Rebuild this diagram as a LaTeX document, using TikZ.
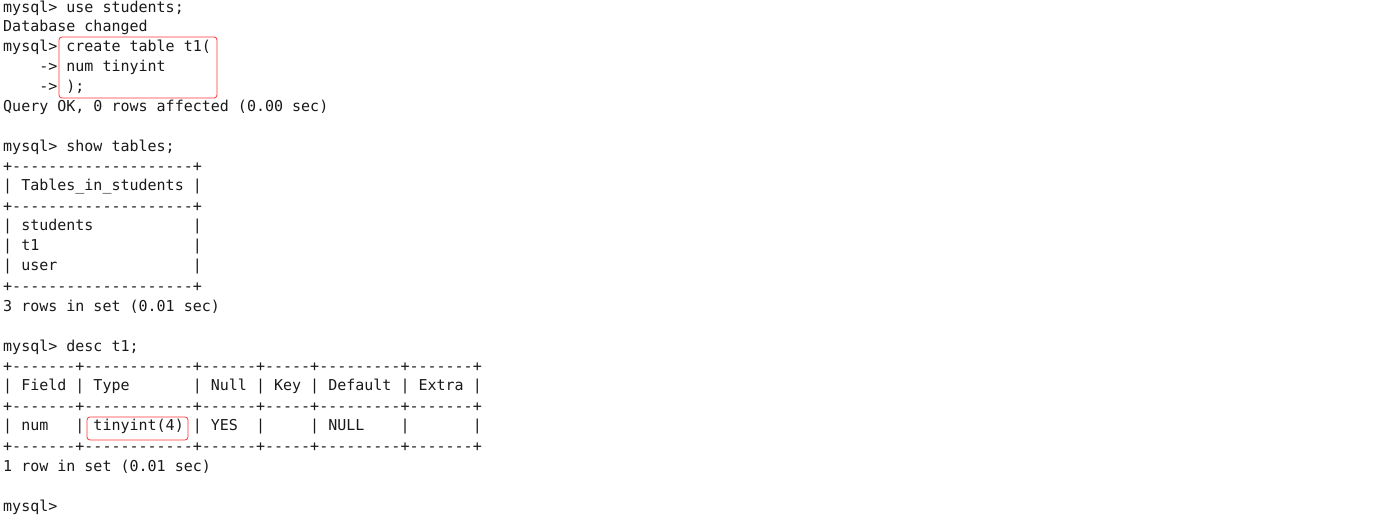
\documentclass[tikz,border=0pt]{standalone}
\usepackage{fontspec}
\newfontfamily\term{DejaVu Sans Mono}
\begin{document}
\begin{tikzpicture}[x=1pt,y=1pt,
  ln/.style={anchor=west,inner sep=0pt,font=\term\fontsize{15}{20}\selectfont,text=black!90},
  hl/.style={draw=red!80!white,rounded corners=3pt,line width=0.8pt}]
\useasboundingbox (0,0) rectangle (1390,-521);
\node[ln] (l0) at (3,-8) {mysql>~use~students;};
\node[ln] (l1) at (3,-27) {Database~changed};
\node[ln] (l2) at (3,-47) {mysql>~create~table~t1(};
\node[ln] (l3) at (3,-67) {~~~~->~num~tinyint};
\node[ln] (l4) at (3,-87) {~~~~->~);};
\node[ln] (l5) at (3,-107) {Query~OK,~0~rows~affected~(0.00~sec)};
\node[ln] (l7) at (3,-147) {mysql>~show~tables;};
\node[ln] (l8) at (3,-167) {+--------------------+};
\node[ln] (l9) at (3,-187) {|~Tables\_in\_students~|};
\node[ln] (l10) at (3,-207) {+--------------------+};
\node[ln] (l11) at (3,-227) {|~students~~~~~~~~~~~|};
\node[ln] (l12) at (3,-247) {|~t1~~~~~~~~~~~~~~~~~|};
\node[ln] (l13) at (3,-267) {|~user~~~~~~~~~~~~~~~|};
\node[ln] (l14) at (3,-287) {+--------------------+};
\node[ln] (l15) at (3,-307) {3~rows~in~set~(0.01~sec)};
\node[ln] (l17) at (3,-347) {mysql>~desc~t1;};
\node[ln] (l18) at (3,-367) {+-------+------------+------+-----+---------+-------+};
\node[ln] (l19) at (3,-387) {|~Field~|~Type~~~~~~~|~Null~|~Key~|~Default~|~Extra~|};
\node[ln] (l20) at (3,-407) {+-------+------------+------+-----+---------+-------+};
\node[ln] (l21) at (3,-427) {|~num~~~|~tinyint(4)~|~YES~~|~~~~~|~NULL~~~~|~~~~~~~|};
\node[ln] (l22) at (3,-447) {+-------+------------+------+-----+---------+-------+};
\node[ln] (l23) at (3,-467) {1~row~in~set~(0.01~sec)};
\node[ln] (l25) at (3,-507) {mysql>};
\draw[hl] (59,-37) rectangle (217,-98);
\draw[hl] (87,-417) rectangle (188,-440);
\end{tikzpicture}
\end{document}
